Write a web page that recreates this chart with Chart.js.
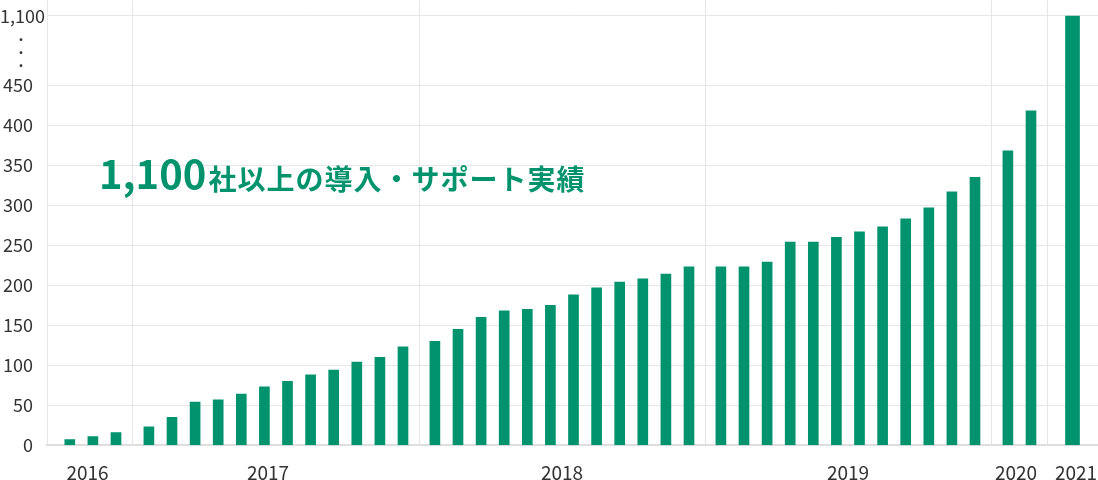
<!DOCTYPE html>
<html><head><meta charset="utf-8">
<script src="https://cdn.jsdelivr.net/npm/chart.js@4.4.1/dist/chart.umd.min.js"></script>
<style>html,body{margin:0;padding:0;background:#fff}#wrap{width:1098px;height:480px;position:relative}</style>
</head><body><div id="wrap"><canvas id="c"></canvas></div>
<script>
// ---- data ----
const years = ['2016', '2017', '2018', '2019', '2020', '2021'];
const v2016 = [7, 11, 16];
const v2017 = [23, 35, 54, 57, 64, 73, 80, 88, 94, 104, 110, 123];
const v2018 = [130, 145, 160, 168, 170, 175, 188, 197, 204, 208, 214, 223];
const v2019 = [223, 223, 229, 254, 254, 260, 267, 273, 283, 297, 317, 335];
const v2020 = [368, 418];
const v2021 = [1100];
const yTicks = [0, 50, 100, 150, 200, 250, 300, 350, 400, 450, 1100];
const titleNumber = '1,100';
const titleText = '社以上の導入・サポート実績';

// ---- layout ----
const SEG = [85, 287, 286, 286, 56, 51];        // widths of the year segments (x-axis units)
const LABEL_SHIFT = [-2, -7.5, 0, 0, -3, 3.5];  // year label nudges from segment centre
const PITCH = 23.1, END_PAD = 16;
const BREAK_LOW = 450, BREAK_GAP = 86.7, TOP_PAD = 20;
const TOP_VAL = yTicks[yTicks.length - 1];
const toAxis = v => v <= BREAK_LOW ? v : BREAK_LOW + BREAK_GAP * (v - BREAK_LOW) / (TOP_VAL - BREAK_LOW);

const GREEN = '#00936e';
const FONT = '"Noto Sans CJK JP", "Noto Sans", sans-serif';

const groups = [v2016, v2017, v2018, v2019, v2020, v2021];
const bounds = [], labelPos = [], monthly = [], yearly = [];
let start = 0;
groups.forEach((vals, g) => {
  const end = start + SEG[g];
  bounds.push(start);
  labelPos.push((start + end) / 2 + LABEL_SHIFT[g]);
  vals.forEach((v, i) => {
    const x = vals.length === 1 ? (start + end) / 2 : end - END_PAD - (vals.length - 1 - i) * PITCH;
    (g === groups.length - 1 ? yearly : monthly).push({ x: x, y: toAxis(v) });
  });
  start = end;
});
const xMax = start;
const xTickVals = bounds.concat(labelPos).sort((a, b) => a - b);

const overlay = {
  id: 'overlay',
  afterDraw(chart) {
    const ctx = chart.ctx, ys = chart.scales.y;
    ctx.save();
    // top tick label of the broken axis
    ctx.fillStyle = '#333';
    ctx.font = '18px ' + FONT;
    ctx.textAlign = 'left';
    ctx.textBaseline = 'middle';
    const yTop = ys.getPixelForValue(toAxis(TOP_VAL));
    const yLow = ys.getPixelForValue(BREAK_LOW);
    ctx.fillText(TOP_VAL.toLocaleString('en-US'), 0, yTop);
    // break dots
    const mid = (yTop + yLow) / 2 + 2;
    [-13, 0, 13].forEach(d => {
      ctx.beginPath();
      ctx.arc(21, mid + d, 1.4, 0, Math.PI * 2);
      ctx.fill();
    });
    // headline
    ctx.fillStyle = GREEN;
    ctx.textBaseline = 'alphabetic';
    ctx.font = 'bold 40px ' + FONT;
    const x0 = chart.chartArea.left + 52;
    ctx.fillText(titleNumber, x0, 189);
    const w = ctx.measureText(titleNumber).width;
    ctx.font = 'bold 28px ' + FONT;
    try { ctx.letterSpacing = '1px'; } catch (e) {}
    ctx.fillText(titleText, x0 + w + 2, 190);
    ctx.restore();
  }
};

new Chart(document.getElementById('c'), {
  type: 'bar',
  data: {
    datasets: [
      { data: monthly, backgroundColor: GREEN, barThickness: 10, grouped: false },
      { data: yearly, backgroundColor: GREEN, barThickness: 14, grouped: false }
    ]
  },
  options: {
    responsive: true,
    maintainAspectRatio: false,
    animation: false,
    layout: { padding: 0 },
    plugins: { legend: { display: false }, tooltip: { enabled: false }, title: { display: false } },
    scales: {
      x: {
        type: 'linear',
        offset: false,
        min: 0, max: xMax,
        afterBuildTicks: s => { s.ticks = xTickVals.map(v => ({ value: v })); },
        afterFit: s => { s.height = 34.7; s.paddingLeft = 0; s.paddingRight = 0; },
        grid: {
          offset: false,
          drawTicks: false,
          color: c => (c.tick && bounds.indexOf(c.tick.value) >= 0) ? '#e6e6e6' : 'rgba(0,0,0,0)'
        },
        border: { display: true, color: '#dedede', width: 2 },
        ticks: {
          autoSkip: false, maxRotation: 0, padding: 16,
          color: '#333', font: { family: FONT, size: 19 },
          callback: (v) => { const i = labelPos.indexOf(v); return i >= 0 ? years[i] : ''; }
        }
      },
      y: {
        type: 'linear',
        min: 0, max: toAxis(TOP_VAL) + TOP_PAD,
        afterBuildTicks: s => { s.ticks = yTicks.map(v => ({ value: toAxis(v) })); },
        afterFit: s => { s.width = 47; s.paddingTop = 0; s.paddingBottom = 0; },
        grid: { drawTicks: false, color: '#e6e6e6' },
        border: { display: false },
        ticks: {
          padding: 14, color: '#333', font: { family: FONT, size: 18 },
          callback: (v, i) => yTicks[i] === TOP_VAL ? '' : yTicks[i].toLocaleString('en-US')
        }
      }
    }
  },
  plugins: [overlay]
});
</script>
</body></html>
